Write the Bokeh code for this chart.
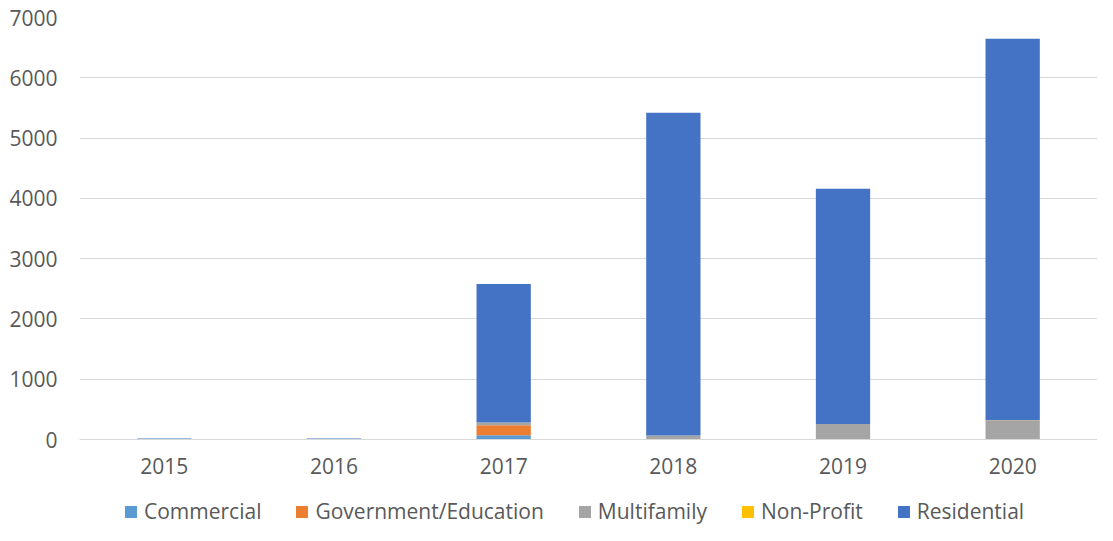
from bokeh.plotting import figure
from bokeh.models import Legend, LegendItem, ColumnDataSource, Range1d, FixedTicker
from bokeh.embed import file_html
from bokeh.resources import INLINE

years = ["2015", "2016", "2017", "2018", "2019", "2020"]
commercial = [0, 0, 70, 0, 0, 0]
government = [0, 0, 165, 5, 5, 0]
multifamily = [0, 0, 45, 60, 253, 314]
nonprofit = [0, 0, 0, 0, 0, 5]
residential = [15, 15, 2300, 5355, 3900, 6330]
y_ticks = [0, 1000, 2000, 3000, 4000, 5000, 6000, 7000]

series = ["Commercial", "Government/Education", "Multifamily", "Non-Profit", "Residential"]
colors = ["#5B9BD5", "#ED7D31", "#A5A5A5", "#FFC000", "#4472C4"]

data = {"years": years}
for name, vals in zip(series, [commercial, government, multifamily, nonprofit, residential]):
    data[name] = vals
source = ColumnDataSource(data)

W, H = 1097, 525
LEFT, TOP = 79, 17
ZERO_PX = 439                     # pixel row of the value 0
px_per_unit = (ZERO_PX - TOP) / 7000.0
y_start = -(H - ZERO_PX) / px_per_unit

FONT = "Open Sans"
p = figure(x_range=years, y_range=Range1d(y_start, 7000), width=W, height=H,
           output_backend="svg", toolbar_location=None,
           min_border_left=LEFT, min_border_right=0, min_border_top=TOP, min_border_bottom=0)

renderers = p.vbar_stack(series, x="years", width=0.32, color=colors, source=source,
                         line_color=None)

p.yaxis.ticker = FixedTicker(ticks=y_ticks)
p.ygrid.grid_line_color = "#D9D9D9"
p.ygrid.grid_line_width = 1
p.xgrid.grid_line_color = None
p.outline_line_color = None
p.background_fill_color = "white"

for ax in (p.xaxis, p.yaxis):
    ax.major_tick_line_color = None
    ax.minor_tick_line_color = None
    ax.major_tick_out = 0
    ax.major_tick_in = 0
    ax.major_label_text_font = FONT
    ax.major_label_text_font_size = "21px"
    ax.major_label_text_color = "#595959"
p.yaxis.axis_line_color = None
p.xaxis.axis_line_color = "#D9D9D9"
p.xaxis.fixed_location = 0
p.yaxis.major_label_standoff = 22
p.xaxis.major_label_standoff = 18

legend = Legend(items=[LegendItem(label=s, renderers=[r]) for s, r in zip(series, renderers)],
                orientation="horizontal", location=(44, 0))
legend.label_text_font = FONT
legend.label_text_font_size = "21px"
legend.label_text_color = "#595959"
legend.glyph_width = 15
legend.glyph_height = 15
legend.spacing = 33
legend.label_standoff = 6
legend.border_line_color = None
legend.background_fill_alpha = 0
legend.margin = 0
legend.padding = 0
p.add_layout(legend, "center")

open("out.html", "w").write(file_html(p, INLINE))
